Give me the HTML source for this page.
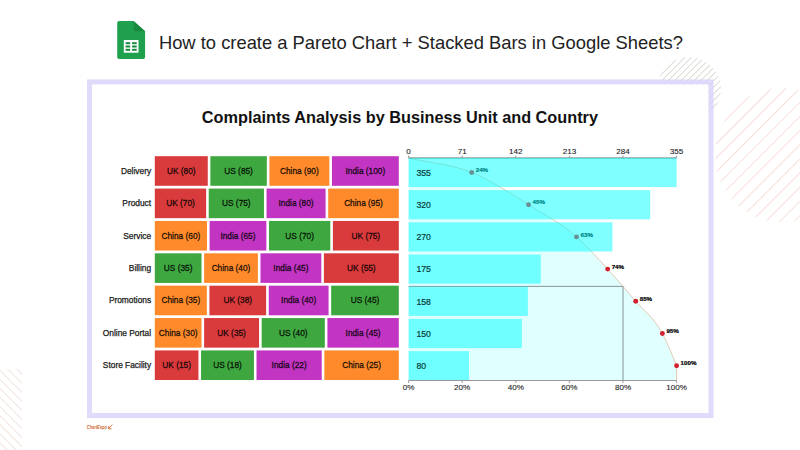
<!DOCTYPE html>
<html><head><meta charset="utf-8">
<style>
html,body{margin:0;padding:0;background:#fff;}
body{width:800px;height:450px;overflow:hidden;position:relative;font-family:"Liberation Sans",sans-serif;}
svg{position:absolute;left:0;top:0;}
text{font-family:"Liberation Sans",sans-serif;}
.rl{font-size:8.35px;fill:#1a1a1a;stroke:#1a1a1a;stroke-width:0.25;}
.sl{font-size:8.3px;fill:#000;fill-opacity:0.82;stroke:#000;stroke-opacity:0.75;stroke-width:0.35;}
.bl{font-size:8.7px;fill:#083a3a;stroke:#083a3a;stroke-width:0.2;}
.ax{font-size:8.1px;fill:#222;stroke:#222;stroke-width:0.1;}
.pl{font-size:6.2px;font-weight:bold;fill:#000;stroke:#000;stroke-width:0.2;}
</style></head><body>
<svg width="800" height="450" viewBox="0 0 800 450">
<defs>
<pattern id="hO" patternUnits="userSpaceOnUse" width="10" height="10" patternTransform="translate(-3.5,0) rotate(45)">
<line x1="0" y1="0" x2="0" y2="10" stroke="#EFC5B5" stroke-width="1.1"/></pattern>
<pattern id="hG" patternUnits="userSpaceOnUse" width="4.6" height="4.6" patternTransform="rotate(45)">
<line x1="0" y1="0" x2="0" y2="4.6" stroke="#BBBBB0" stroke-width="1.05"/></pattern>
<pattern id="hL" patternUnits="userSpaceOnUse" width="6.4" height="6.4" patternTransform="rotate(-45)">
<line x1="0" y1="0" x2="0" y2="6.4" stroke="#E6CDC4" stroke-width="1.15"/></pattern>
</defs>
<circle cx="782" cy="155" r="67" fill="url(#hO)"/>
<circle cx="689" cy="89" r="32" fill="url(#hG)"/>
<rect x="0" y="369" width="22" height="81" fill="url(#hL)"/>
<rect x="89.6" y="82" width="621.3" height="333.5" fill="none" stroke="#D8D2FA" stroke-opacity="0.8" stroke-width="5.2"/>
<rect x="92.2" y="84.6" width="616.1" height="328.3" fill="#fff"/>
<g>
<path d="M119.2,21 H133.6 L145.1,31.2 V57.1 Q145.1,59.1 143.1,59.1 H119.2 Q117.2,59.1 117.2,57.1 V23 Q117.2,21 119.2,21 Z" fill="#1FA04F"/>
<path d="M133.6,21 L145.1,31.2 H135.6 Q133.6,31.2 133.6,29.2 Z" fill="#178A3E"/>
<rect x="123.8" y="40" width="14.7" height="12.7" fill="#fff"/>
<rect x="125.6" y="42.2" width="4.6" height="2" fill="#188A3E"/>
<rect x="132.1" y="42.2" width="4.6" height="2" fill="#188A3E"/>
<rect x="125.6" y="45.5" width="4.6" height="2" fill="#188A3E"/>
<rect x="132.1" y="45.5" width="4.6" height="2" fill="#188A3E"/>
<rect x="125.6" y="48.8" width="4.6" height="2" fill="#188A3E"/>
<rect x="132.1" y="48.8" width="4.6" height="2" fill="#188A3E"/>
</g>
<text x="158.9" y="49.1" style="font-size:18.36px;fill:#222">How to create a Pareto Chart + Stacked Bars in Google Sheets?</text>
<text x="201.8" y="122.5" style="font-size:16.28px;font-weight:bold;fill:#111">Complaints Analysis by Business Unit and Country</text>
<text x="151.1" y="174.00" class="rl" text-anchor="end">Delivery</text>
<rect x="154.80" y="156.20" width="52.97" height="29.6" fill="#D93A3C"/>
<text x="181.29" y="174.00" class="sl" text-anchor="middle">UK (80)</text>
<rect x="210.37" y="156.20" width="56.45" height="29.6" fill="#3EA73F"/>
<text x="238.59" y="174.00" class="sl" text-anchor="middle">US (85)</text>
<rect x="269.42" y="156.20" width="59.92" height="29.6" fill="#FF8A2B"/>
<text x="299.38" y="174.00" class="sl" text-anchor="middle">China (90)</text>
<rect x="331.94" y="156.20" width="66.86" height="29.6" fill="#C234C2"/>
<text x="365.37" y="174.00" class="sl" text-anchor="middle">India (100)</text>
<text x="151.1" y="206.37" class="rl" text-anchor="end">Product</text>
<rect x="154.80" y="188.57" width="51.34" height="29.6" fill="#D93A3C"/>
<text x="180.47" y="206.37" class="sl" text-anchor="middle">UK (70)</text>
<rect x="208.74" y="188.57" width="55.20" height="29.6" fill="#3EA73F"/>
<text x="236.34" y="206.37" class="sl" text-anchor="middle">US (75)</text>
<rect x="266.54" y="188.57" width="59.05" height="29.6" fill="#C234C2"/>
<text x="296.07" y="206.37" class="sl" text-anchor="middle">India (80)</text>
<rect x="328.19" y="188.57" width="70.61" height="29.6" fill="#FF8A2B"/>
<text x="363.50" y="206.37" class="sl" text-anchor="middle">China (95)</text>
<text x="151.1" y="238.74" class="rl" text-anchor="end">Service</text>
<rect x="154.80" y="220.94" width="52.20" height="29.6" fill="#FF8A2B"/>
<text x="180.90" y="238.74" class="sl" text-anchor="middle">China (60)</text>
<rect x="209.60" y="220.94" width="56.77" height="29.6" fill="#C234C2"/>
<text x="237.98" y="238.74" class="sl" text-anchor="middle">India (65)</text>
<rect x="268.97" y="220.94" width="61.33" height="29.6" fill="#3EA73F"/>
<text x="299.63" y="238.74" class="sl" text-anchor="middle">US (70)</text>
<rect x="332.90" y="220.94" width="65.90" height="29.6" fill="#D93A3C"/>
<text x="365.85" y="238.74" class="sl" text-anchor="middle">UK (75)</text>
<text x="151.1" y="271.11" class="rl" text-anchor="end">Billing</text>
<rect x="154.80" y="253.31" width="46.72" height="29.6" fill="#3EA73F"/>
<text x="178.16" y="271.11" class="sl" text-anchor="middle">US (35)</text>
<rect x="204.12" y="253.31" width="53.77" height="29.6" fill="#FF8A2B"/>
<text x="231.00" y="271.11" class="sl" text-anchor="middle">China (40)</text>
<rect x="260.49" y="253.31" width="60.81" height="29.6" fill="#C234C2"/>
<text x="290.89" y="271.11" class="sl" text-anchor="middle">India (45)</text>
<rect x="323.90" y="253.31" width="74.90" height="29.6" fill="#D93A3C"/>
<text x="361.35" y="271.11" class="sl" text-anchor="middle">UK (55)</text>
<text x="151.1" y="303.48" class="rl" text-anchor="end">Promotions</text>
<rect x="154.80" y="285.68" width="52.03" height="29.6" fill="#FF8A2B"/>
<text x="180.81" y="303.48" class="sl" text-anchor="middle">China (35)</text>
<rect x="209.43" y="285.68" width="56.71" height="29.6" fill="#D93A3C"/>
<text x="237.78" y="303.48" class="sl" text-anchor="middle">UK (38)</text>
<rect x="268.74" y="285.68" width="59.83" height="29.6" fill="#C234C2"/>
<text x="298.65" y="303.48" class="sl" text-anchor="middle">India (40)</text>
<rect x="331.17" y="285.68" width="67.63" height="29.6" fill="#3EA73F"/>
<text x="364.98" y="303.48" class="sl" text-anchor="middle">US (45)</text>
<text x="151.1" y="335.85" class="rl" text-anchor="end">Online Portal</text>
<rect x="154.80" y="318.05" width="46.72" height="29.6" fill="#FF8A2B"/>
<text x="178.16" y="335.85" class="sl" text-anchor="middle">China (30)</text>
<rect x="204.12" y="318.05" width="54.94" height="29.6" fill="#D93A3C"/>
<text x="231.59" y="335.85" class="sl" text-anchor="middle">UK (35)</text>
<rect x="261.66" y="318.05" width="63.16" height="29.6" fill="#3EA73F"/>
<text x="293.24" y="335.85" class="sl" text-anchor="middle">US (40)</text>
<rect x="327.42" y="318.05" width="71.38" height="29.6" fill="#C234C2"/>
<text x="363.11" y="335.85" class="sl" text-anchor="middle">India (45)</text>
<text x="151.1" y="368.22" class="rl" text-anchor="end">Store Facility</text>
<rect x="154.80" y="350.42" width="43.64" height="29.6" fill="#D93A3C"/>
<text x="176.62" y="368.22" class="sl" text-anchor="middle">UK (15)</text>
<rect x="201.04" y="350.42" width="52.89" height="29.6" fill="#3EA73F"/>
<text x="227.48" y="368.22" class="sl" text-anchor="middle">US (18)</text>
<rect x="256.52" y="350.42" width="65.21" height="29.6" fill="#C234C2"/>
<text x="289.13" y="368.22" class="sl" text-anchor="middle">India (22)</text>
<rect x="324.34" y="350.42" width="74.46" height="29.6" fill="#FF8A2B"/>
<text x="361.57" y="368.22" class="sl" text-anchor="middle">China (25)</text>
<path d="M408.60,158.00 C429.63,162.83 450.66,163.95 471.69,172.50 C490.65,180.21 509.60,192.89 528.56,204.70 C544.55,214.67 560.55,222.63 576.54,236.90 C586.91,246.15 597.28,257.76 607.65,269.10 C617.00,279.34 626.36,290.27 635.72,301.30 C644.61,311.77 653.50,316.64 662.38,333.50 C667.12,342.49 671.86,354.10 676.60,365.70 L676.60,380.5 L408.6,380.5 Z" fill="#E0FFFF"/>
<path d="M408.60,158.00 C429.63,162.83 450.66,163.95 471.69,172.50 C490.65,180.21 509.60,192.89 528.56,204.70 C544.55,214.67 560.55,222.63 576.54,236.90 C586.91,246.15 597.28,257.76 607.65,269.10 C617.00,279.34 626.36,290.27 635.72,301.30 C644.61,311.77 653.50,316.64 662.38,333.50 C667.12,342.49 671.86,354.10 676.60,365.70 L676.60,380.5" fill="none" stroke="#E4C6AE" stroke-width="0.95"/>
<path d="M408.6,286.4 H623.00 V380.5" fill="none" stroke="#7d8a90" stroke-width="0.9"/>
<circle cx="471.69" cy="172.50" r="2.45" fill="#D21F2D"/>
<text x="475.69" y="172.20" class="pl">24%</text>
<circle cx="528.56" cy="204.70" r="2.45" fill="#D21F2D"/>
<text x="532.56" y="204.40" class="pl">45%</text>
<circle cx="576.54" cy="236.90" r="2.45" fill="#D21F2D"/>
<text x="580.54" y="236.60" class="pl">63%</text>
<circle cx="607.65" cy="269.10" r="2.45" fill="#D21F2D"/>
<text x="611.65" y="268.80" class="pl">74%</text>
<circle cx="635.72" cy="301.30" r="2.45" fill="#D21F2D"/>
<text x="639.72" y="301.00" class="pl">85%</text>
<circle cx="662.38" cy="333.50" r="2.45" fill="#D21F2D"/>
<text x="666.38" y="333.20" class="pl">95%</text>
<circle cx="676.60" cy="365.70" r="2.45" fill="#D21F2D"/>
<text x="680.60" y="365.40" class="pl">100%</text>
<line x1="408.6" y1="158.0" x2="676.6" y2="158.0" stroke="#5f6f6f" stroke-width="1"/>
<rect x="408.6" y="157.90" width="268.00" height="29.2" fill="#00FFFF" fill-opacity="0.5"/>
<text x="416.40" y="175.70" class="bl">355</text>
<rect x="408.6" y="190.10" width="241.58" height="29.2" fill="#00FFFF" fill-opacity="0.5"/>
<text x="416.40" y="207.90" class="bl">320</text>
<rect x="408.6" y="222.30" width="203.83" height="29.2" fill="#00FFFF" fill-opacity="0.5"/>
<text x="416.40" y="240.10" class="bl">270</text>
<rect x="408.6" y="254.50" width="132.11" height="29.2" fill="#00FFFF" fill-opacity="0.5"/>
<text x="416.40" y="272.30" class="bl">175</text>
<rect x="408.6" y="286.70" width="119.28" height="29.2" fill="#00FFFF" fill-opacity="0.5"/>
<text x="416.40" y="304.50" class="bl">158</text>
<rect x="408.6" y="318.90" width="113.24" height="29.2" fill="#00FFFF" fill-opacity="0.5"/>
<text x="416.40" y="336.70" class="bl">150</text>
<rect x="408.6" y="351.10" width="60.39" height="29.2" fill="#00FFFF" fill-opacity="0.5"/>
<text x="416.40" y="368.90" class="bl">80</text>
<line x1="408.60" y1="155.6" x2="408.60" y2="158.0" stroke="#888" stroke-width="0.8"/>
<text x="408.60" y="153.7" class="ax" text-anchor="middle">0</text>
<line x1="462.20" y1="155.6" x2="462.20" y2="158.0" stroke="#888" stroke-width="0.8"/>
<text x="462.20" y="153.7" class="ax" text-anchor="middle">71</text>
<line x1="515.80" y1="155.6" x2="515.80" y2="158.0" stroke="#888" stroke-width="0.8"/>
<text x="515.80" y="153.7" class="ax" text-anchor="middle">142</text>
<line x1="569.40" y1="155.6" x2="569.40" y2="158.0" stroke="#888" stroke-width="0.8"/>
<text x="569.40" y="153.7" class="ax" text-anchor="middle">213</text>
<line x1="623.00" y1="155.6" x2="623.00" y2="158.0" stroke="#888" stroke-width="0.8"/>
<text x="623.00" y="153.7" class="ax" text-anchor="middle">284</text>
<line x1="676.60" y1="155.6" x2="676.60" y2="158.0" stroke="#888" stroke-width="0.8"/>
<text x="676.60" y="153.7" class="ax" text-anchor="middle">355</text>
<line x1="408.6" y1="380.5" x2="676.6" y2="380.5" stroke="#999" stroke-width="1"/>
<line x1="408.60" y1="380.5" x2="408.60" y2="383.0" stroke="#888" stroke-width="0.8"/>
<text x="408.60" y="390.10" class="ax" text-anchor="middle">0%</text>
<line x1="462.20" y1="380.5" x2="462.20" y2="383.0" stroke="#888" stroke-width="0.8"/>
<text x="462.20" y="390.10" class="ax" text-anchor="middle">20%</text>
<line x1="515.80" y1="380.5" x2="515.80" y2="383.0" stroke="#888" stroke-width="0.8"/>
<text x="515.80" y="390.10" class="ax" text-anchor="middle">40%</text>
<line x1="569.40" y1="380.5" x2="569.40" y2="383.0" stroke="#888" stroke-width="0.8"/>
<text x="569.40" y="390.10" class="ax" text-anchor="middle">60%</text>
<line x1="623.00" y1="380.5" x2="623.00" y2="383.0" stroke="#888" stroke-width="0.8"/>
<text x="623.00" y="390.10" class="ax" text-anchor="middle">80%</text>
<line x1="676.60" y1="380.5" x2="676.60" y2="383.0" stroke="#888" stroke-width="0.8"/>
<text x="676.60" y="390.10" class="ax" text-anchor="middle">100%</text>
<text x="86.8" y="428.9" textLength="20" lengthAdjust="spacingAndGlyphs" style="font-size:5.4px;font-style:italic;font-weight:bold;fill:#D0672A">ChartExpo</text>
<path d="M108.3,428.8 L112.4,424.6 M108.6,426.2 V428.8 H111.6" stroke="#D86A2A" stroke-width="0.9" fill="none"/>
</svg>
</body></html>
